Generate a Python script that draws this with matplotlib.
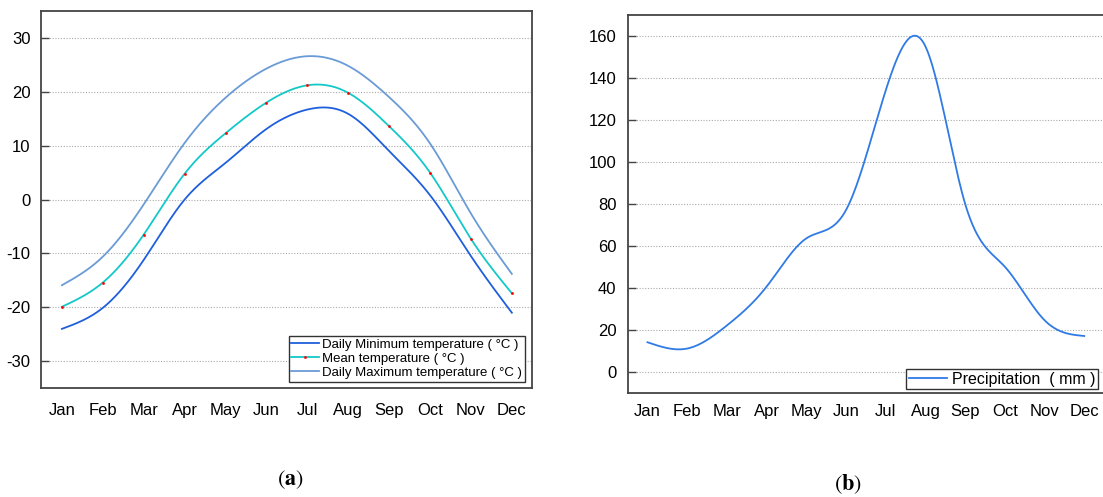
import numpy as np
import matplotlib
matplotlib.use("Agg")
import matplotlib.pyplot as plt
from matplotlib.lines import Line2D

plt.rcParams['font.family'] = ['Liberation Sans', 'DejaVu Sans']
plt.rcParams['axes.unicode_minus'] = False

months = ['Jan', 'Feb', 'Mar', 'Apr', 'May', 'Jun', 'Jul', 'Aug', 'Sep', 'Oct', 'Nov', 'Dec']
t_min = [-24.0, -20.1, -11.2, 0.0, 6.8, 13.1, 16.7, 15.9, 9.0, 0.8, -10.5, -21.0]
t_mean = [-19.9, -15.4, -6.5, 4.8, 12.3, 18.0, 21.2, 19.8, 13.6, 5.0, -7.3, -17.4]
t_max = [-15.9, -10.6, -0.9, 10.5, 18.9, 24.3, 26.6, 24.8, 19.0, 10.4, -2.6, -13.8]
precip = [14.0, 11.0, 22.0, 40.5, 63.5, 77.0, 134.0, 155.0, 80.0, 50.0, 24.5, 17.0]


def spline(x, y, n=400):
    # natural cubic spline, only used to draw the smooth connecting line
    x = np.asarray(x, float)
    y = np.asarray(y, float)
    k = len(x)
    h = np.diff(x)
    A = np.zeros((k, k))
    b = np.zeros(k)
    A[0, 0] = 1
    A[-1, -1] = 1
    for i in range(1, k - 1):
        A[i, i - 1] = h[i - 1]
        A[i, i] = 2 * (h[i - 1] + h[i])
        A[i, i + 1] = h[i]
        b[i] = 6 * ((y[i + 1] - y[i]) / h[i] - (y[i] - y[i - 1]) / h[i - 1])
    M = np.linalg.solve(A, b)
    xs = np.linspace(x[0], x[-1], n)
    idx = np.clip(np.searchsorted(x, xs) - 1, 0, k - 2)
    x0, x1 = x[idx], x[idx + 1]
    hh = x1 - x0
    a = (x1 - xs) / hh
    c = (xs - x0) / hh
    ys = a * y[idx] + c * y[idx + 1] + ((a**3 - a) * M[idx] + (c**3 - c) * M[idx + 1]) * hh**2 / 6
    return xs, ys


x = np.arange(1, 13)
fig = plt.figure(figsize=(11.03, 4.97), dpi=100)

c_min = '#1f5fdc'
c_mean = '#14c8c8'
c_max = '#6a9bd6'
c_pre = '#2f7ae5'
spine_c = '#444444'


def style(ax, pad_x):
    for s in ax.spines.values():
        s.set_color(spine_c)
        s.set_linewidth(1.3)
    ax.grid(axis='y', color='#aaaaaa', linestyle=(0, (1, 1.5)), linewidth=0.8)
    ax.set_axisbelow(True)
    ax.set_xticks(x)
    ax.set_xticklabels(months)
    ax.tick_params(axis='x', length=0, pad=pad_x, labelsize=12)
    ax.tick_params(axis='y', direction='in', length=6, width=1, color=spine_c, pad=8, labelsize=12)
    ax.set_xlim(0.5, 12.5)


# (a) temperature
ax1 = fig.add_axes([0.0376, 0.219, 0.445, 0.759])
ax1.plot(*spline(x, t_min), color=c_min, lw=1.3)
ax1.plot(*spline(x, t_mean), color=c_mean, lw=1.3)
ax1.plot(x, t_mean, ls='none', marker='s', ms=0.9, color='red')
ax1.plot(*spline(x, t_max), color=c_max, lw=1.3)
ax1.set_ylim(-35, 35)
ax1.set_yticks([-30, -20, -10, 0, 10, 20, 30])
style(ax1, 11)
handles = [Line2D([], [], color=c_min, lw=1.3),
           Line2D([], [], color=c_mean, lw=1.3, marker='s', ms=0.9, mfc='red', mec='red'),
           Line2D([], [], color=c_max, lw=1.3)]
leg1 = ax1.legend(handles, ['Daily Minimum temperature ( °C )', 'Mean temperature ( °C )',
                            'Daily Maximum temperature ( °C )'],
                  loc='lower right', bbox_to_anchor=(0.99, 0.01), fontsize=9.5,
                  fancybox=False, framealpha=1, edgecolor='#333333',
                  handlelength=2.1, handletextpad=0.25, borderpad=0.2,
                  labelspacing=0.15, borderaxespad=0.2)
leg1.get_frame().set_linewidth(1.0)

# (b) precipitation
ax2 = fig.add_axes([0.569, 0.21, 0.432, 0.760])
ax2.plot(*spline(x, precip), color=c_pre, lw=1.3)
ax2.set_ylim(-10, 170)
ax2.set_yticks(np.arange(0, 161, 20))
style(ax2, 8)
leg2 = ax2.legend(['Precipitation  ( mm )'], loc='lower right', bbox_to_anchor=(0.99, 0.005),
                  fontsize=11.5, fancybox=False, framealpha=1, edgecolor='#333333',
                  handlelength=2.4, handletextpad=0.3, borderpad=0.15, borderaxespad=0.1)
leg2.get_frame().set_linewidth(1.0)

plt.rcParams['mathtext.fontset'] = 'stix'
fig.text(0.263, 0.035, r'($\mathbf{a}$)', ha='center', va='center', fontsize=16, family='STIXGeneral')
fig.text(0.769, 0.025, r'($\mathbf{b}$)', ha='center', va='center', fontsize=16, family='STIXGeneral')

fig.savefig('out.png', dpi=100)
